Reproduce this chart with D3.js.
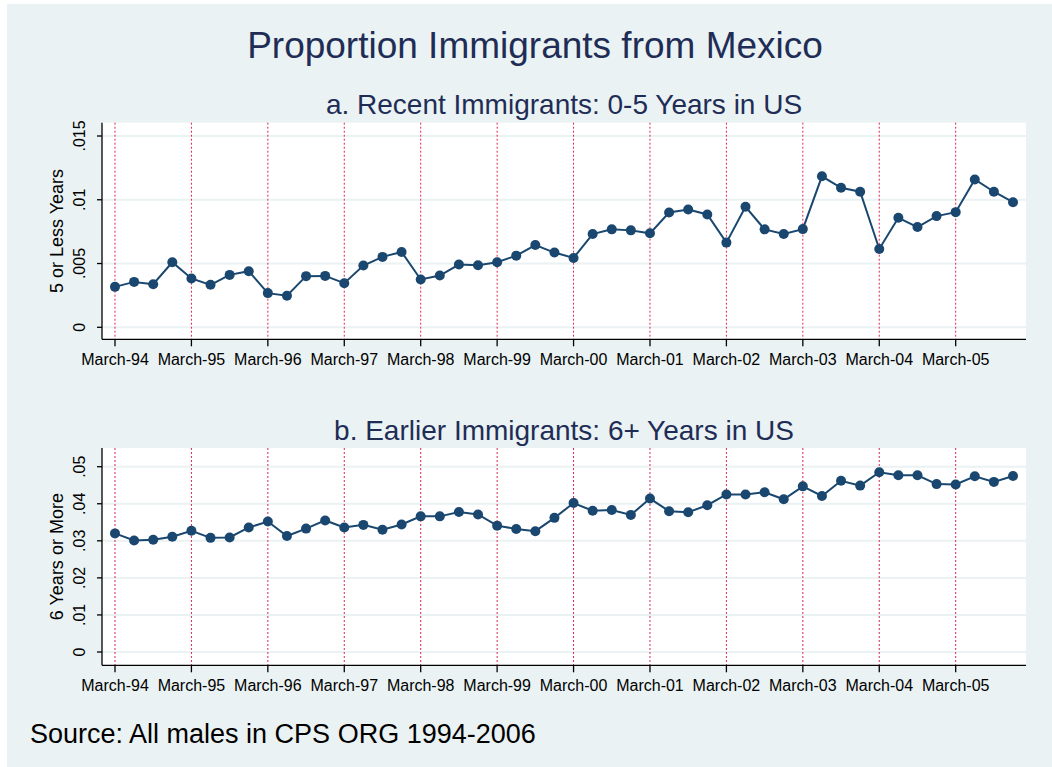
<!DOCTYPE html>
<html>
<head>
<meta charset="utf-8">
<style>
body { margin: 0; background: #fff; }
svg { display: block; font-family: "Liberation Sans", Arial, sans-serif; }
</style>
</head>
<body>
<svg width="1052" height="767"></svg>
<script src="https://d3js.org/d3.v7.min.js"></script>
<script>
// quarterly CPS observations, March-94 .. Dec-05
var quarters = [
  "Mar-94","Jun-94","Sep-94","Dec-94","Mar-95","Jun-95","Sep-95","Dec-95",
  "Mar-96","Jun-96","Sep-96","Dec-96","Mar-97","Jun-97","Sep-97","Dec-97",
  "Mar-98","Jun-98","Sep-98","Dec-98","Mar-99","Jun-99","Sep-99","Dec-99",
  "Mar-00","Jun-00","Sep-00","Dec-00","Mar-01","Jun-01","Sep-01","Dec-01",
  "Mar-02","Jun-02","Sep-02","Dec-02","Mar-03","Jun-03","Sep-03","Dec-03",
  "Mar-04","Jun-04","Sep-04","Dec-04","Mar-05","Jun-05","Sep-05","Dec-05"
];

var recent = [
  0.00317, 0.00356, 0.00338, 0.0051, 0.00383, 0.00333, 0.00411, 0.0044,
  0.00268, 0.00247, 0.00401, 0.00403, 0.00346, 0.00484, 0.00552, 0.00591,
  0.00375, 0.00406, 0.00492, 0.00487, 0.0051, 0.00562, 0.00645, 0.00586,
  0.00544, 0.00731, 0.00768, 0.0076, 0.00737, 0.009, 0.00924, 0.00885,
  0.00664, 0.00945, 0.00768, 0.00731, 0.0077, 0.01184, 0.01094, 0.01063,
  0.00614, 0.00859, 0.00786, 0.00872, 0.00903, 0.01159, 0.01063, 0.00981
];

var earlier = [
  0.0320, 0.0301, 0.0303, 0.0311, 0.0327, 0.0308, 0.0309, 0.0336,
  0.0352, 0.0313, 0.0333, 0.0355, 0.0336, 0.0343, 0.0330, 0.0344,
  0.0366, 0.0366, 0.0378, 0.0371, 0.0341, 0.0332, 0.0326, 0.0362,
  0.0402, 0.0381, 0.0383, 0.0370, 0.0414, 0.0380, 0.0377, 0.0396,
  0.0425, 0.0425, 0.0431, 0.0412, 0.0447, 0.0421, 0.0462, 0.0449,
  0.0485, 0.0477, 0.0477, 0.0453, 0.0452, 0.0474, 0.0459, 0.0475
];

var marchTicks = ["Mar-94","Mar-95","Mar-96","Mar-97","Mar-98","Mar-99",
                  "Mar-00","Mar-01","Mar-02","Mar-03","Mar-04","Mar-05"];
var tickLabels = ["March-94","March-95","March-96","March-97","March-98","March-99",
                  "March-00","March-01","March-02","March-03","March-04","March-05"];

var recentTicks = [0, 0.005, 0.01, 0.015];
var earlierTicks = [0, 0.01, 0.02, 0.03, 0.04, 0.05];

var svg = d3.select("svg");
var navy = "#1a476f", titleColor = "#1f2d56";

svg.append("rect").attr("width", 1052).attr("height", 767).attr("fill", "#fff");
svg.append("rect").attr("x", 7).attr("y", 4).attr("width", 1045).attr("height", 763)
    .attr("fill", "#eaf2f3");

svg.append("text")
    .attr("x", 535).attr("y", 58)
    .attr("text-anchor", "middle")
    .attr("font-size", 37)
    .attr("fill", titleColor)
    .text("Proportion Immigrants from Mexico");

svg.append("text")
    .attr("x", 30).attr("y", 743)
    .attr("font-size", 27)
    .attr("fill", "#000")
    .text("Source: All males in CPS ORG 1994-2006");

var left = 102, right = 1026;
var x = d3.scalePoint().domain(quarters).range([left, right]).padding(0.68);

function fmt(d) { return d === 0 ? "0" : String(d).replace(/^0/, ""); }

function drawPanel(p) {
  var y = d3.scaleLinear().domain([0, p.max]).range([p.zero, p.topTick]);
  var g = svg.append("g");

  g.append("text")
      .attr("x", (left + right) / 2).attr("y", p.subY)
      .attr("text-anchor", "middle")
      .attr("font-size", 28)
      .attr("fill", titleColor)
      .text(p.title);

  g.append("rect")
      .attr("x", left).attr("y", p.top)
      .attr("width", right - left).attr("height", p.bottom - p.top)
      .attr("fill", "#fff");

  // horizontal grid
  g.selectAll(".grid").data(p.ticks).enter().append("line")
      .attr("x1", left).attr("x2", right)
      .attr("y1", function(d) { return y(d); })
      .attr("y2", function(d) { return y(d); })
      .attr("stroke", "#eaf2f3").attr("stroke-width", 2);

  // march reference lines
  g.selectAll(".march").data(marchTicks).enter().append("line")
      .attr("x1", function(d) { return x(d); })
      .attr("x2", function(d) { return x(d); })
      .attr("y1", p.top).attr("y2", p.bottom)
      .attr("stroke", "#e0264f").attr("stroke-width", 1)
      .attr("stroke-dasharray", "2,2");

  // axes
  g.append("line").attr("x1", left).attr("x2", left)
      .attr("y1", p.top).attr("y2", p.bottom)
      .attr("stroke", "#000").attr("stroke-width", 1.3);
  g.append("line").attr("x1", left).attr("x2", right)
      .attr("y1", p.bottom).attr("y2", p.bottom)
      .attr("stroke", "#000").attr("stroke-width", 1.3);

  g.selectAll(".yt").data(p.ticks).enter().append("line")
      .attr("x1", left - 5).attr("x2", left)
      .attr("y1", function(d) { return y(d); })
      .attr("y2", function(d) { return y(d); })
      .attr("stroke", "#000").attr("stroke-width", 1.3);
  g.selectAll(".yl").data(p.ticks).enter().append("text")
      .attr("transform", function(d) { return "translate(85," + y(d) + ") rotate(-90)"; })
      .attr("text-anchor", "middle")
      .attr("font-size", 16)
      .text(fmt);

  g.append("text")
      .attr("transform", "translate(63," + (p.top + p.bottom) / 2 + ") rotate(-90)")
      .attr("text-anchor", "middle")
      .attr("font-size", 18)
      .text(p.yTitle);

  g.selectAll(".xt").data(marchTicks).enter().append("line")
      .attr("x1", function(d) { return x(d); })
      .attr("x2", function(d) { return x(d); })
      .attr("y1", p.bottom).attr("y2", p.bottom + 7)
      .attr("stroke", "#000").attr("stroke-width", 1.3);
  g.selectAll(".xl").data(marchTicks).enter().append("text")
      .attr("x", function(d) { return x(d); })
      .attr("y", p.bottom + 26)
      .attr("text-anchor", "middle")
      .attr("font-size", 16)
      .text(function(d, i) { return tickLabels[i]; });

  var line = d3.line()
      .x(function(d, i) { return x(quarters[i]); })
      .y(function(d) { return y(d); });
  g.append("path").datum(p.values)
      .attr("d", line)
      .attr("fill", "none")
      .attr("stroke", navy).attr("stroke-width", 2);
  g.selectAll(".pt").data(p.values).enter().append("circle")
      .attr("cx", function(d, i) { return x(quarters[i]); })
      .attr("cy", function(d) { return y(d); })
      .attr("r", 5)
      .attr("fill", navy);
}

drawPanel({
  title: "a. Recent Immigrants: 0-5 Years in US",
  yTitle: "5 or Less Years",
  values: recent, ticks: recentTicks, max: 0.015,
  top: 122.7, bottom: 339.3, zero: 327.3, topTick: 136, subY: 114
});

drawPanel({
  title: "b. Earlier Immigrants: 6+ Years in US",
  yTitle: "6 Years or More",
  values: earlier, ticks: earlierTicks, max: 0.05,
  top: 448, bottom: 665.3, zero: 652, topTick: 466.7, subY: 440
});
</script>
</body>
</html>
